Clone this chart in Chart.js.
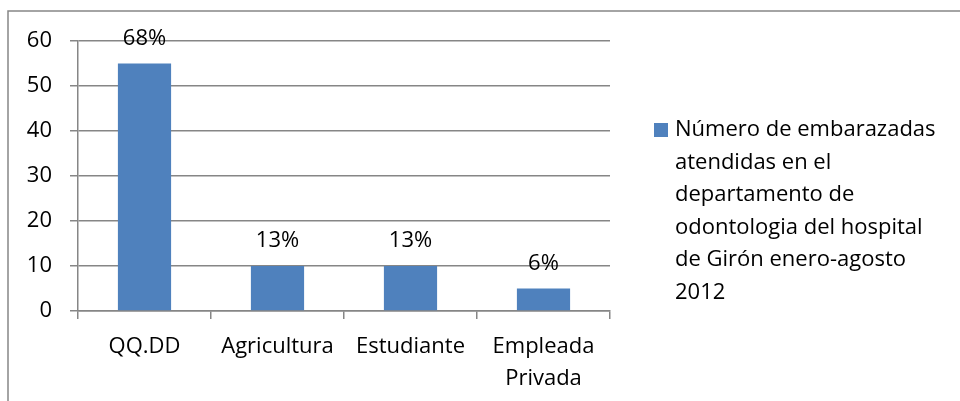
<!DOCTYPE html>
<html>
<head>
<meta charset="utf-8">
<script src="https://cdn.jsdelivr.net/npm/chart.js@4"></script>
<style>
  html, body { margin: 0; padding: 0; background: #fff; }
  #wrap { width: 960px; height: 401px; }
</style>
</head>
<body>
<div id="wrap"><canvas id="occChart" width="960" height="401"></canvas></div>
<script>
const categories = ['QQ.DD', 'Agricultura', 'Estudiante', ['Empleada', 'Privada']];
const counts = [55, 10, 10, 5];
const percentLabels = ['68%', '13%', '13%', '6%'];
const seriesName = ['Número de embarazadas', 'atendidas en el', 'departamento de',
    'odontologia del hospital', 'de Girón enero-agosto', '2012'];

const FONT = '"Open Sans", "DejaVu Sans", sans-serif';
const GRID = '#868686';
const BAR = '#4F81BD';

// frame, bar labels and the wrapped legend on the right
const extras = {
    id: 'extras',
    beforeDraw(chart) {
        const ctx = chart.ctx;
        ctx.save();
        ctx.strokeStyle = GRID;
        ctx.lineWidth = 1.5;
        ctx.beginPath();
        ctx.moveTo(8, chart.height);
        ctx.lineTo(8, 11);
        ctx.lineTo(chart.width, 11);
        ctx.stroke();
        ctx.restore();
    },
    afterDatasetsDraw(chart) {
        const ctx = chart.ctx;
        const meta = chart.getDatasetMeta(0);
        ctx.save();
        ctx.font = '22px ' + FONT;
        ctx.fillStyle = '#000';
        ctx.textAlign = 'center';
        ctx.textBaseline = 'middle';
        meta.data.forEach((bar, i) => {
            ctx.fillText(percentLabels[i], bar.x, bar.y - 25);
        });

        // legend
        ctx.fillStyle = BAR;
        ctx.fillRect(654, 123, 14, 14);
        ctx.fillStyle = '#000';
        ctx.textAlign = 'left';
        seriesName.forEach((line, i) => {
            ctx.fillText(line, 675, 130 + i * 32.5);
        });
        ctx.restore();
    }
};

const chart = new Chart(document.getElementById('occChart'), {
    type: 'bar',
    data: {
        labels: categories,
        datasets: [{
            label: seriesName.join(' '),
            data: counts,
            backgroundColor: BAR,
            borderWidth: 0,
            barPercentage: 0.4,
            categoryPercentage: 1
        }]
    },
    plugins: [extras],
    options: {
        responsive: false,
        animation: false,
        layout: { padding: { top: 41, right: 350, left: 0, bottom: 0 } },
        plugins: {
            legend: { display: false },
            tooltip: { enabled: false }
        },
        scales: {
            x: {
                afterFit: (s) => { s.height = 90; },
                grid: { drawOnChartArea: false, drawTicks: true, tickLength: 8, color: GRID, lineWidth: 1.5 },
                border: { color: GRID, width: 1.5 },
                ticks: { color: '#000', font: { family: FONT, size: 22, lineHeight: 1.45 }, padding: 12, maxRotation: 0 }
            },
            y: {
                min: 0,
                max: 60,
                afterFit: (s) => { s.width = 78; },
                grid: { color: GRID, lineWidth: 1.5, tickLength: 8 },
                border: { color: GRID, width: 1.5 },
                ticks: { stepSize: 10, color: '#000', font: { family: FONT, size: 22 }, padding: 18 }
            }
        }
    }
});
</script>
</body>
</html>
